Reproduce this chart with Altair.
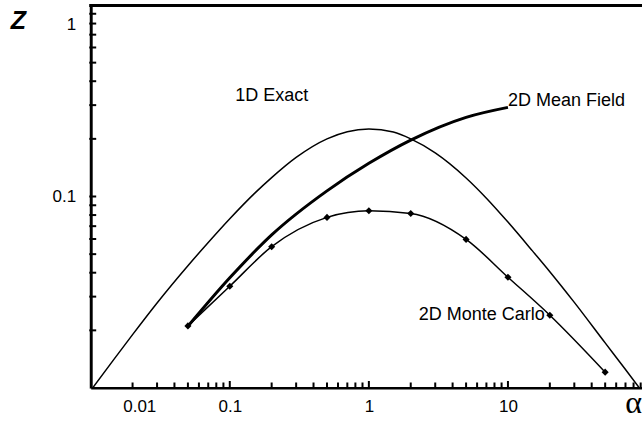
import altair as alt
import pandas as pd

# ---- data ----
alpha_1d = [0.01, 0.015, 0.02, 0.03, 0.05, 0.07, 0.1, 0.15, 0.2, 0.3, 0.5, 0.7, 1,
            1.5, 2, 3, 5, 7, 10, 15, 20, 30, 50, 70, 90]
z_1d = [0.0097, 0.0144, 0.019, 0.0278, 0.0435, 0.0575, 0.0765, 0.1035, 0.1255, 0.16, 0.2,
        0.218, 0.225, 0.217, 0.2, 0.169, 0.125, 0.098, 0.0735, 0.052, 0.0405, 0.028,
        0.0172, 0.0125, 0.0098]

alpha_mf = [0.05, 0.1, 0.2, 0.5, 1, 2, 5, 10]
z_mf = [0.021, 0.0376, 0.063, 0.107, 0.149, 0.197, 0.259, 0.292]

alpha_mc = [0.05, 0.1, 0.2, 0.5, 1, 2, 5, 10, 20, 50]
z_mc = [0.0211, 0.034, 0.0547, 0.0778, 0.0842, 0.0815, 0.0597, 0.0379, 0.024, 0.0121]

x_tick_labels = [0.01, 0.1, 1, 10]
y_tick_labels = [0.1, 1]
x_minor = [0.02, 0.03, 0.04, 0.05, 0.06, 0.07, 0.08, 0.09,
           0.2, 0.3, 0.4, 0.5, 0.6, 0.7, 0.8, 0.9,
           2, 3, 4, 5, 6, 7, 8, 9,
           20, 30, 40, 50, 60, 70, 80, 90]
x_major = [0.1, 1, 10]
y_minor = [0.02, 0.03, 0.04, 0.05, 0.06, 0.07, 0.08, 0.09, 0.1,
           0.2, 0.3, 0.4, 0.5, 0.6, 0.7, 0.8, 0.9]

label_1d = "1D Exact"
label_mf = "2D Mean Field"
label_mc = "2D Monte Carlo"

# ---- layout ----
W = 551.3
H = 383
FONT = "Liberation Sans"

df_1d = pd.DataFrame({"alpha": alpha_1d, "z": z_1d})
df_mf = pd.DataFrame({"alpha": alpha_mf, "z": z_mf})
df_mc = pd.DataFrame({"alpha": alpha_mc, "z": z_mc})

xscale = alt.Scale(type="log", domain=[0.01, 92], nice=False)
yscale = alt.Scale(type="log", domain=[0.01, 1], nice=False)

xaxis = alt.Axis(values=x_tick_labels, format="~g", ticks=False, tickSize=0, grid=False,
                 domainColor="black", domainWidth=3, labelFont=FONT, labelFontSize=17,
                 labelColor="black", labelPadding=10, labelFlush=True, labelFlushOffset=-32,
                 labelOverlap=False, labelBound=False,
                 title="α", titleFont="Liberation Serif", titleFontSize=32,
                 titleFontWeight="normal", titleColor="black",
                 titleX=534, titleY=24, titleAlign="left", titleBaseline="alphabetic")
yaxis = alt.Axis(values=y_tick_labels, format="~g", ticks=False, tickSize=0, grid=False,
                 domainColor="black", domainWidth=3, labelFont=FONT, labelFontSize=17,
                 labelColor="black", labelPadding=15, labelFlush=True, labelFlushOffset=-11,
                 labelOverlap=False, labelBound=False,
                 title="Z", titleFont=FONT, titleFontSize=25, titleFontWeight="bold",
                 titleFontStyle="italic", titleColor="black", titleAngle=0,
                 titleX=-72.7, titleY=15.5, titleAlign="center", titleBaseline="middle")


def X(field):
    return alt.X(field, type="quantitative", scale=xscale, axis=xaxis)


def Y(field):
    return alt.Y(field, type="quantitative", scale=yscale, axis=yaxis)


line_1d = alt.Chart(df_1d).mark_line(color="black", strokeWidth=1.5, interpolate="monotone",
                                     clip=True).encode(x=X("alpha"), y=Y("z"))
line_mf = alt.Chart(df_mf).mark_line(color="black", strokeWidth=3, interpolate="monotone",
                                     clip=True).encode(x=X("alpha"), y=Y("z"))
line_mc = alt.Chart(df_mc).mark_line(color="black", strokeWidth=1.5, interpolate="monotone",
                                     clip=True).encode(x=X("alpha"), y=Y("z"))
pts_mc = alt.Chart(df_mc).mark_point(shape="diamond", filled=True, color="black", size=50,
                                     opacity=1).encode(x=X("alpha"), y=Y("z"))

txt_1d = alt.Chart(pd.DataFrame({"alpha": [0.2], "z": [0.335], "t": [label_1d]})).mark_text(
    font=FONT, fontSize=18, color="black", align="center", baseline="middle"
).encode(x=X("alpha"), y=Y("z"), text="t:N")

txt_mf = alt.Chart(pd.DataFrame({"alpha": [alpha_mf[-1]], "z": [z_mf[-1]], "t": [label_mf]})).mark_text(
    font=FONT, fontSize=18, color="black", align="left", baseline="middle", dx=0, dy=-6
).encode(x=X("alpha"), y=Y("z"), text="t:N")

txt_mc = alt.Chart(pd.DataFrame({"alpha": [alpha_mc[8]], "z": [z_mc[8]], "t": [label_mc]})).mark_text(
    font=FONT, fontSize=18, color="black", align="right", baseline="middle", dx=-5, dy=0
).encode(x=X("alpha"), y=Y("z"), text="t:N")

# inward ticks
xt_minor = alt.Chart(pd.DataFrame({"v": x_minor})).mark_tick(
    color="black", thickness=2, size=11, opacity=1, orient="vertical"
).encode(x=X("v"), y=alt.value(H))
xt_major = alt.Chart(pd.DataFrame({"v": x_major})).mark_tick(
    color="black", thickness=2, size=14, opacity=1, orient="vertical"
).encode(x=X("v"), y=alt.value(H))
yt_minor = alt.Chart(pd.DataFrame({"v": y_minor})).mark_tick(
    color="black", thickness=2, size=11, opacity=1, orient="horizontal"
).encode(y=Y("v"), x=alt.value(0))

# cover the outer halves of the ticks (outside the plot) with white
x_cover = alt.Chart(pd.DataFrame({"a": [0]})).mark_rect(color="white", opacity=1).encode(
    x=alt.value(-1), x2=alt.value(W + 10), y=alt.value(H + 1.5), y2=alt.value(H + 8))
y_cover = alt.Chart(pd.DataFrame({"a": [0]})).mark_rect(color="white", opacity=1).encode(
    x=alt.value(-8), x2=alt.value(-1.5), y=alt.value(0), y2=alt.value(H))

top_border = alt.Chart(pd.DataFrame({"a": [0]})).mark_rule(color="black", strokeWidth=3).encode(
    x=alt.value(-1.5), x2=alt.value(W + 10), y=alt.value(0.5))

chart = alt.layer(
    line_1d, line_mf, line_mc, pts_mc, txt_1d, txt_mf, txt_mc,
    xt_minor, xt_major, yt_minor, x_cover, y_cover, top_border
).properties(
    width=W, height=H,
    padding={"left": 90.7, "top": 5, "right": 0, "bottom": 34},
    autosize=alt.AutoSizeParams(type="none"),
    background="white",
).configure_view(stroke=None)

chart.save("out.html", embed_options={"renderer": "svg", "actions": False})
